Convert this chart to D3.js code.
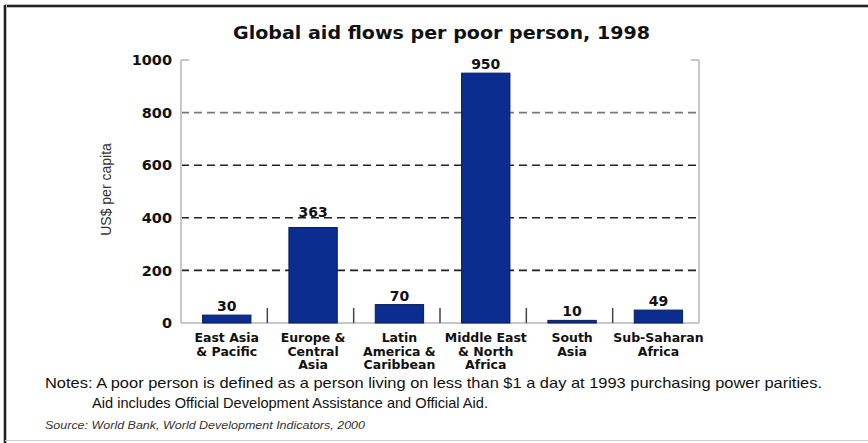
<!DOCTYPE html>
<html>
<head>
<meta charset="utf-8">
<script src="https://cdn.jsdelivr.net/npm/d3@7"></script>
<style>
  html, body { margin: 0; padding: 0; background: #fff; }
  svg { display: block; }
</style>
</head>
<body>
<div id="chart"></div>
<script>
// aid flows per poor person by region, 1998
const regions = [
    ["East Asia", "& Pacific"],
    ["Europe &", "Central", "Asia"],
    ["Latin", "America &", "Caribbean"],
    ["Middle East", "& North", "Africa"],
    ["South", "Asia"],
    ["Sub-Saharan", "Africa"]
];
const aidPerCapita = [30, 363, 70, 950, 10, 49];
const yTicks = [0, 200, 400, 600, 800, 1000];
const gridValues = [200, 400, 600, 800];

const titleText = "Global aid flows per poor person, 1998";
const yLabel = "US$ per capita";
const notes = [
    "Notes: A poor person is defined as a person living on less than $1 a day at 1993 purchasing power parities.",
    "Aid includes Official Development Assistance and Official Aid."
];
const sourceText = "Source: World Bank, World Development Indicators, 2000";

const width = 868, height = 443;
const plot = { left: 181, right: 699, top: 60, bottom: 323 };

const svg = d3.select("#chart").append("svg")
    .attr("width", width)
    .attr("height", height);

// frame: dark top and left edges, faint bottom line
svg.append("line").attr("x1", 5).attr("x2", width).attr("y1", 6).attr("y2", 6)
    .style("stroke", "#bbb").style("stroke-width", 4);
svg.append("line").attr("x1", 5).attr("x2", width).attr("y1", 6).attr("y2", 6)
    .style("stroke", "#222").style("stroke-width", 2);
svg.append("line").attr("x1", 5).attr("x2", 5).attr("y1", 5).attr("y2", height)
    .style("stroke", "#bbb").style("stroke-width", 4);
svg.append("line").attr("x1", 5).attr("x2", 5).attr("y1", 5).attr("y2", height)
    .style("stroke", "#222").style("stroke-width", 2);
svg.append("line").attr("x1", 5).attr("x2", width).attr("y1", 440.5).attr("y2", 440.5)
    .style("stroke", "#ccc").style("stroke-width", 1);

const x = d3.scaleBand()
    .domain(d3.range(regions.length))
    .range([plot.left, plot.right]);

const y = d3.scaleLinear()
    .domain([0, 1000])
    .range([plot.bottom, plot.top]);

// title
svg.append("text")
    .attr("x", 233)
    .attr("y", 39)
    .attr("textLength", 417)
    .attr("lengthAdjust", "spacingAndGlyphs")
    .style("font-family", "DejaVu Sans")
    .style("font-weight", "bold")
    .style("font-size", "18px")
    .style("fill", "#111")
    .text(titleText);

// dashed gridlines
svg.selectAll(".grid")
    .data(gridValues)
    .enter()
    .append("line")
    .attr("class", "grid")
    .attr("x1", plot.left)
    .attr("x2", plot.right)
    .attr("y1", d => y(d))
    .attr("y2", d => y(d))
    .style("stroke", d => d === 800 ? "#777" : "#222")
    .style("stroke-width", 1.6)
    .style("stroke-dasharray", "8,5");

// axis frame lines (light gray)
const axisColor = "#c8c8c8";
svg.append("line")
    .attr("x1", plot.left).attr("x2", plot.left)
    .attr("y1", y(1000)).attr("y2", y(0))
    .style("stroke", axisColor).style("stroke-width", 2);
svg.append("line")
    .attr("x1", plot.right).attr("x2", plot.right)
    .attr("y1", y(1000)).attr("y2", y(0))
    .style("stroke", axisColor).style("stroke-width", 2);
svg.append("line")
    .attr("x1", plot.left).attr("x2", plot.right)
    .attr("y1", y(0)).attr("y2", y(0))
    .style("stroke", axisColor).style("stroke-width", 2);
svg.append("line")
    .attr("x1", plot.left).attr("x2", plot.left + 8)
    .attr("y1", y(1000)).attr("y2", y(1000))
    .style("stroke", axisColor).style("stroke-width", 2);
svg.append("line")
    .attr("x1", plot.right - 8).attr("x2", plot.right)
    .attr("y1", y(1000)).attr("y2", y(1000))
    .style("stroke", axisColor).style("stroke-width", 2);

// y axis labels
const yAxis = d3.axisLeft(y)
    .tickValues(yTicks)
    .tickSize(0)
    .tickPadding(9)
    .tickFormat(d3.format("d"));

const yG = svg.append("g")
    .attr("transform", `translate(${plot.left},0)`)
    .call(yAxis);
yG.select(".domain").remove();
yG.selectAll("text")
    .style("font-family", "DejaVu Sans")
    .style("font-weight", "bold")
    .style("font-size", "14.5px")
    .style("fill", "#111");

// y axis title
svg.append("text")
    .attr("transform", `translate(111,${(plot.top + plot.bottom) / 2 - 2}) rotate(-90)`)
    .attr("text-anchor", "middle")
    .style("font-family", "Liberation Sans")
    .style("font-size", "14px")
    .style("fill", "#333")
    .text(yLabel);

// separator ticks between categories
svg.selectAll(".sep")
    .data(d3.range(1, regions.length))
    .enter()
    .append("line")
    .attr("class", "sep")
    .attr("x1", d => x(d))
    .attr("x2", d => x(d))
    .attr("y1", y(0) - 15)
    .attr("y2", y(0))
    .style("stroke", "#444")
    .style("stroke-width", 1.5);

// bars
const barW = x.bandwidth() * 0.56;
const barOffset = x.bandwidth() * 0.25;
svg.selectAll(".bar")
    .data(aidPerCapita)
    .enter()
    .append("rect")
    .attr("class", "bar")
    .attr("x", (d, i) => x(i) + barOffset)
    .attr("y", d => y(d))
    .attr("width", barW)
    .attr("height", d => y(0) - y(d))
    .style("fill", "#0a2d8f")
    .style("stroke", "#061c5e")
    .style("stroke-width", 1);

// value labels, lifted clear of a dashed line if they would sit on it
function labelY(v) {
    let base = y(v) - 4;
    gridValues.forEach(g => {
        const gy = y(g);
        if (gy > base - 11 && gy < base + 2) base = gy - 1;
    });
    return base;
}

svg.selectAll(".val")
    .data(aidPerCapita)
    .enter()
    .append("text")
    .attr("class", "val")
    .attr("x", (d, i) => x(i) + barOffset + barW / 2)
    .attr("y", d => labelY(d))
    .attr("text-anchor", "middle")
    .style("font-family", "DejaVu Sans")
    .style("font-weight", "bold")
    .style("font-size", "14px")
    .style("fill", "#111")
    .text(d => d);

// category labels
const cat = svg.selectAll(".cat")
    .data(regions)
    .enter()
    .append("text")
    .attr("class", "cat")
    .attr("text-anchor", "middle")
    .attr("x", (d, i) => x(i) + barOffset + barW / 2)
    .attr("y", 342)
    .style("font-family", "DejaVu Sans")
    .style("font-weight", "bold")
    .style("font-size", "12.5px")
    .style("fill", "#111");

cat.selectAll("tspan")
    .data((d, i) => d.map(line => ({ line, cx: x(i) + barOffset + barW / 2 })))
    .enter()
    .append("tspan")
    .attr("x", d => d.cx)
    .attr("dy", (d, j) => j === 0 ? 0 : 13.5)
    .text(d => d.line);

// notes
svg.append("text")
    .attr("x", 45)
    .attr("y", 388)
    .attr("textLength", 777)
    .attr("lengthAdjust", "spacingAndGlyphs")
    .style("font-family", "Liberation Sans")
    .style("font-size", "15px")
    .style("fill", "#111")
    .text(notes[0]);
svg.append("text")
    .attr("x", 92)
    .attr("y", 408)
    .attr("textLength", 396)
    .attr("lengthAdjust", "spacingAndGlyphs")
    .style("font-family", "Liberation Sans")
    .style("font-size", "15px")
    .style("fill", "#111")
    .text(notes[1]);

// source
svg.append("text")
    .attr("x", 45)
    .attr("y", 429)
    .attr("textLength", 320)
    .attr("lengthAdjust", "spacingAndGlyphs")
    .style("font-family", "Liberation Sans")
    .style("font-style", "italic")
    .style("font-size", "11.5px")
    .style("fill", "#333")
    .text(sourceText);
</script>
</body>
</html>
